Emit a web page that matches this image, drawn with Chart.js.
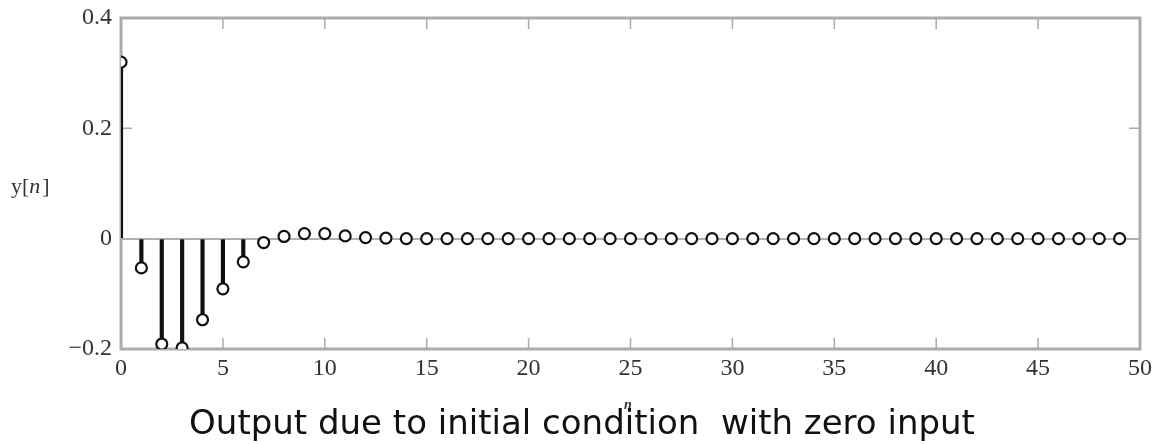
<!DOCTYPE html>
<html>
<head>
<meta charset="utf-8">
<script src="https://cdn.jsdelivr.net/npm/chart.js@4/dist/chart.umd.min.js"></script>
<style>
  html, body { margin: 0; padding: 0; background: #fff; }
  #wrap { width: 1163px; height: 444px; }
</style>
</head>
<body>
<div id="wrap"><canvas id="stemChart"></canvas></div>
<script>
// ==========================
// Data
// ==========================
const nValues = [];
for (let i = 0; i < 50; i++) nValues.push(i);

const yValues = [
  0.32, -0.053, -0.191, -0.198, -0.147, -0.091, -0.042, -0.007, 0.004, 0.009,
  0.009, 0.005, 0.002, 0.001, 0, 0, 0, 0, 0, 0,
  0, 0, 0, 0, 0, 0, 0, 0, 0, 0,
  0, 0, 0, 0, 0, 0, 0, 0, 0, 0,
  0, 0, 0, 0, 0, 0, 0, 0, 0, 0
];

const xTicks = [0, 5, 10, 15, 20, 25, 30, 35, 40, 45, 50];
const yTicks = [-0.2, 0, 0.2, 0.4];

const titleText = "Output due to initial condition  with zero input";
const xLabel = "n";

const points = nValues.map((n, i) => ({ x: n, y: yValues[i] }));

// ==========================
// Frame, inward ticks, labels, caption
// ==========================
const framePlugin = {
  id: "frame",
  beforeDatasetsDraw(chart) {
    const { ctx, chartArea: a, scales } = chart;
    ctx.save();
    ctx.strokeStyle = "#ababab";
    ctx.lineWidth = 1.5;
    ctx.beginPath();
    xTicks.forEach(v => {
      const px = scales.x.getPixelForValue(v);
      ctx.moveTo(px, a.bottom); ctx.lineTo(px, a.bottom - 11);
      ctx.moveTo(px, a.top);    ctx.lineTo(px, a.top + 11);
    });
    yTicks.forEach(v => {
      const py = scales.y.getPixelForValue(v);
      ctx.moveTo(a.left, py);  ctx.lineTo(a.left + 11, py);
      ctx.moveTo(a.right, py); ctx.lineTo(a.right - 11, py);
    });
    ctx.stroke();
    ctx.lineWidth = 3;
    ctx.strokeRect(a.left, a.top, a.right - a.left, a.bottom - a.top);
    ctx.restore();
  },
  afterDraw(chart) {
    const { ctx } = chart;
    ctx.save();
    ctx.fillStyle = "#333";
    ctx.textBaseline = "middle";
    ctx.textAlign = "left";
    ctx.font = "22px 'Liberation Serif'";
    ctx.fillText("y[", 11, 187);
    let w = ctx.measureText("y[").width;
    ctx.font = "italic 22px 'Liberation Serif'";
    ctx.fillText("n", 11 + w, 187);
    w += ctx.measureText("n").width;
    ctx.font = "22px 'Liberation Serif'";
    ctx.fillText("]", 11 + w + 2, 187);
    ctx.font = "italic bold 14px 'Liberation Serif'";
    ctx.textAlign = "center";
    ctx.fillText(xLabel, 628, 405);
    ctx.fillStyle = "#111";
    ctx.font = "34px 'DejaVu Sans'";
    ctx.fillText(titleText, 582, 425);
    ctx.restore();
  }
};

// ==========================
// Chart
// ==========================
const ctx = document.getElementById("stemChart").getContext("2d");
new Chart(ctx, {
  type: "bar",
  data: {
    datasets: [
      {
        type: "scatter",
        label: "samples",
        data: points,
        showLine: false,
        pointStyle: "circle",
        pointRadius: 5.5,
        pointBorderWidth: 2.2,
        pointBorderColor: "#111",
        pointBackgroundColor: "#fff",
        order: 0
      },
      {
        type: "bar",
        label: "stems",
        data: points,
        backgroundColor: "#111",
        barThickness: 3.5,
        order: 1
      }
    ]
  },
  plugins: [framePlugin],
  options: {
    responsive: true,
    maintainAspectRatio: false,
    animation: false,
    layout: { padding: { top: 18, right: 23, left: 0, bottom: 41 } },
    plugins: {
      legend: { display: false },
      tooltip: { enabled: false },
      title: { display: false }
    },
    scales: {
      x: {
        type: "linear",
        min: 0,
        max: 50,
        offset: false,
        afterBuildTicks: s => { s.ticks = xTicks.map(v => ({ value: v })); },
        afterFit: s => { s.height = 54; s.paddingLeft = 0; s.paddingRight = 0; },
        ticks: {
          color: "#333",
          font: { family: "Liberation Serif", size: 24 },
          padding: 5,
          maxRotation: 0,
          autoSkip: false
        },
        grid: { display: false, drawTicks: false },
        border: { display: false }
      },
      y: {
        min: -0.2,
        max: 0.4,
        afterBuildTicks: s => { s.ticks = yTicks.map(v => ({ value: v })); },
        afterFit: s => { s.width = 121; s.paddingTop = 0; s.paddingBottom = 0; },
        ticks: {
          color: "#333",
          font: { family: "Liberation Serif", size: 24 },
          padding: 9,
          callback: v => Math.abs(v) < 1e-9 ? "0" : (v < 0 ? "\u2212" : "") + Math.abs(v).toFixed(1)
        },
        grid: {
          drawTicks: false,
          color: c => Math.abs(c.tick.value) < 1e-9 ? "#b0b0b0" : "rgba(0,0,0,0)",
          lineWidth: 2
        },
        border: { display: false }
      }
    }
  }
});
</script>
</body>
</html>
